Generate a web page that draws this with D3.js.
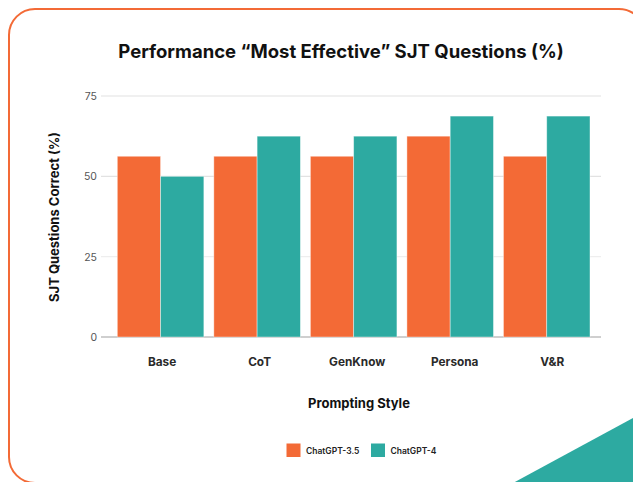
<!DOCTYPE html>
<html><head><meta charset="utf-8">
<script src="https://cdn.jsdelivr.net/npm/d3@7"></script>
<style>html,body{margin:0;padding:0;background:#fff;}svg{display:block;}</style>
</head><body>
<svg id="chart" width="633" height="482"></svg>
<script>
const categories = ["Base", "CoT", "GenKnow", "Persona", "V&R"];
const seriesNames = ["ChatGPT-3.5", "ChatGPT-4"];
const gpt35 = [56.25, 56.25, 56.25, 62.5, 56.25];
const gpt4 = [50, 62.5, 62.5, 68.75, 68.75];
const yTicks = [0, 25, 50, 75];
const colors = ["#F36A36", "#2DAAA1"];

const svg = d3.select("#chart");
const font = "Inter, 'Open Sans', sans-serif";

// frame
svg.append("rect").attr("x", 9).attr("y", 9).attr("width", 636).attr("height", 474)
  .attr("rx", 26).attr("fill", "#fff").attr("stroke", "#F36A36").attr("stroke-width", 2);
svg.append("polygon").attr("points", "513,483 633,418 633,483").attr("fill", "#2DAAA1");

const x0 = d3.scaleBand().domain(categories).range([117.3, 590]).paddingInner(0.1034).paddingOuter(0);
const x1 = d3.scaleBand().domain(seriesNames).range([0, x0.bandwidth()]);
const y = d3.scaleLinear().domain([0, 75]).range([337, 96]);
const xLabel = x0.copy().range([118.3, 596]);

// gridlines
const grid = svg.append("g");
yTicks.forEach(t => {
  grid.append("line").attr("x1", 101).attr("x2", 601).attr("y1", y(t)).attr("y2", y(t))
    .attr("stroke", t === 0 ? "#cfcfcf" : (t === 25 ? "#eeeeee" : "#e2e2e2"))
    .attr("stroke-width", t === 0 ? 2 : 1.2);
});

// y axis labels
const yAxis = d3.axisLeft(y).tickValues(yTicks).tickSize(0).tickPadding(4);
const ya = svg.append("g").attr("transform", "translate(101,0)").call(yAxis);
ya.select(".domain").remove();
ya.selectAll("text").attr("font-family", font).attr("font-size", 10.5).attr("fill", "#555");

// bars
const rows = categories.map((c, i) => ({ cat: c, vals: [gpt35[i], gpt4[i]] }));
const g = svg.append("g");
rows.forEach(r => {
  r.vals.forEach((v, j) => {
    g.append("rect")
      .attr("x", x0(r.cat) + x1(seriesNames[j]))
      .attr("y", y(v))
      .attr("width", x1.bandwidth())
      .attr("height", y(0) - y(v))
      .attr("fill", colors[j])
      .attr("stroke", "rgba(255,255,255,0.5)").attr("stroke-width", 0.8);
  });
});

// x axis labels
const xAxis = d3.axisBottom(xLabel).tickSize(0).tickPadding(12);
const xa = svg.append("g").attr("transform", "translate(0,346)").call(xAxis);
xa.select(".domain").remove();
xa.selectAll("text").attr("font-family", font).attr("font-size", 11.8).attr("font-weight", 700).attr("fill", "#2a2a2a");

// title
svg.append("text").attr("x", 341).attr("y", 58).attr("text-anchor", "middle")
  .attr("font-family", font).attr("font-size", 18.5).attr("font-weight", 700).attr("fill", "#111")
  .text("Performance “Most Effective” SJT Questions (%)");

// axis titles
svg.append("text").attr("x", 359).attr("y", 408).attr("text-anchor", "middle")
  .attr("font-family", font).attr("font-size", 13).attr("font-weight", 700).attr("fill", "#111")
  .text("Prompting Style");
svg.append("text").attr("transform", "translate(59,217) rotate(-90)").attr("text-anchor", "middle")
  .attr("font-family", font).attr("font-size", 13).attr("font-weight", 700).attr("fill", "#111")
  .text("SJT Questions Correct (%)");

// legend
const legX = [286.5, 371];
seriesNames.forEach((s, i) => {
  svg.append("rect").attr("x", legX[i]).attr("y", 443.5).attr("width", 14).attr("height", 13.5).attr("fill", colors[i]);
  svg.append("text").attr("x", legX[i] + 19.5).attr("y", 454).attr("font-family", font)
    .attr("font-size", 8.5).attr("font-weight", 600).attr("fill", "#222").text(s);
});
</script>
</body></html>
